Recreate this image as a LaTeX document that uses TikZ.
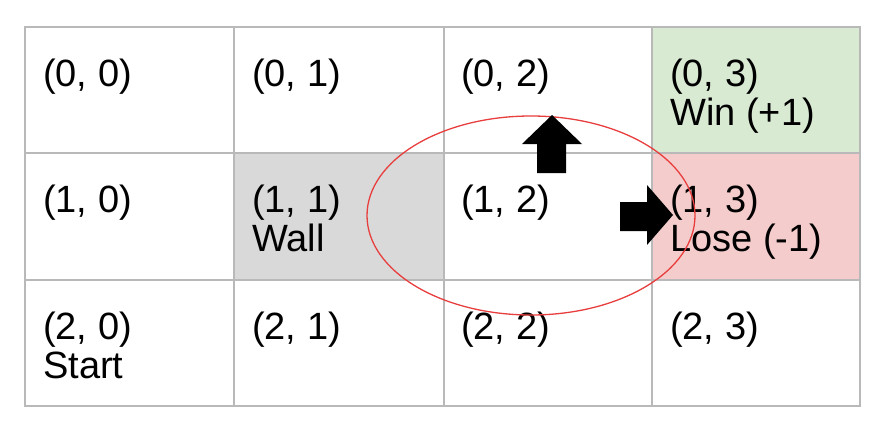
\documentclass[tikz,border=0pt]{standalone}
\usepackage{fontspec}
\setmainfont{Liberation Sans}
\definecolor{wingreen}{RGB}{217,234,211}
\definecolor{losered}{RGB}{244,204,204}
\definecolor{wallgray}{RGB}{217,217,217}
\definecolor{gridgray}{RGB}{185,185,185}
\definecolor{ringred}{RGB}{232,62,62}
\begin{document}
\begin{tikzpicture}[x=1pt,y=-1pt,
  lbl/.style={anchor=base west,inner sep=0pt,font=\fontsize{38}{40}\selectfont,text=black},
  gridline/.style={draw=gridgray,line width=1.4pt},
  ring/.style={draw=ringred,line width=1.3pt},
  blockarrow/.style={fill=black,draw=none}]
\useasboundingbox (0,0) rectangle (880,428);
\fill[white] (0,0) rectangle (880,428);
% coloured cells
\fill[wingreen] (652,27) rectangle (860,153);
\fill[losered] (652,153) rectangle (860,280);
\fill[wallgray] (234,153) rectangle (444,280);
% grid
\draw[gridline] (25,27) rectangle (860,406);
\foreach \gx in {234,444,652} \draw[gridline] (\gx,27) -- (\gx,406);
\foreach \gy in {153,280} \draw[gridline] (25,\gy) -- (860,\gy);
% labels
\node[lbl] (c00) at (43,86) {(0, 0)};
\node[lbl] (c01) at (252,86) {(0, 1)};
\node[lbl] (c02) at (461,86) {(0, 2)};
\node[lbl] (c03) at (670,86) {(0, 3)};
\node[lbl] (c03b) at (670,125) {Win (+1)};
\node[lbl] (c10) at (43,212) {(1, 0)};
\node[lbl] (c11) at (252,212) {(1, 1)};
\node[lbl] (c11b) at (252,251) {Wall};
\node[lbl] (c12) at (461,212) {(1, 2)};
\node[lbl] (c13) at (670,212) {(1, 3)};
\node[lbl] (c13b) at (670,251) {Lose (-1)};
\node[lbl] (c20) at (43,339) {(2, 0)};
\node[lbl] (c20b) at (43,378) {Start};
\node[lbl] (c21) at (252,339) {(2, 1)};
\node[lbl] (c22) at (461,339) {(2, 2)};
\node[lbl] (c23) at (670,339) {(2, 3)};
% ring
\draw[ring] (531,215.5) ellipse [x radius=164, y radius=99.5];
% arrows
\fill[blockarrow] (552,115) -- (582,144) -- (566,144) -- (566,173) -- (537,173) -- (537,144) -- (522,144) -- cycle;
\fill[blockarrow] (673,215) -- (647,245) -- (647,231) -- (620,231) -- (620,202) -- (647,202) -- (647,185) -- cycle;
\end{tikzpicture}
\end{document}
